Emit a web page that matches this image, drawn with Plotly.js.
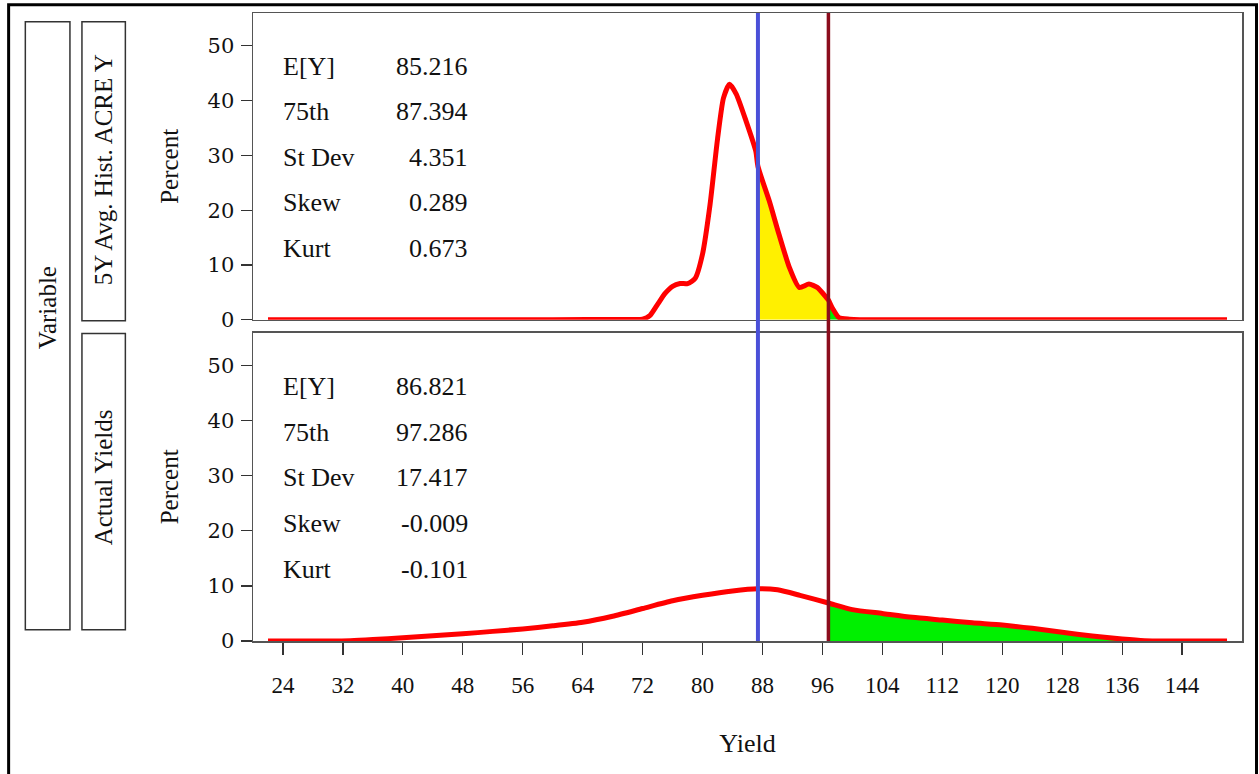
<!DOCTYPE html>
<html>
<head>
<meta charset="utf-8">
<script src="https://cdn.plot.ly/plotly-3.0.1.min.js"></script>
<style>html,body{margin:0;padding:0;background:#fff;}#chart{width:1259px;height:774px;}</style>
</head>
<body>
<div id="chart"></div>
<script>
// ---- data ----
const panelNames = ["5Y Avg. Hist. ACRE Y", "Actual Yields"];
const groupLabel = "Variable";

const histX = [22, 60, 70, 72, 73, 74, 75, 76, 77, 78, 79, 80, 81, 82, 82.8, 83.6, 84.5, 85.8, 87.1, 87.394, 88.9, 90.2, 91.6, 92.9, 94.2, 95.3, 96.5, 96.8, 97.3, 98.2, 99.6, 101, 150];
const histY = [0, 0, 0.05, 0.1, 0.8, 2.8, 4.8, 6.1, 6.6, 6.6, 7.5, 12.0, 21.0, 33.0, 40.5, 43.0, 41.2, 36.3, 30.8, 28.0, 21.7, 15.6, 9.5, 5.9, 6.5, 5.9, 4.1, 3.6, 2.2, 0.4, 0.1, 0, 0];

const actX = [22, 30, 33, 36, 40, 44, 48, 52, 56, 60, 64, 68, 72, 76, 80, 84, 87.394, 90, 93, 96.8, 100, 104, 108, 112, 116, 120, 124, 128, 132, 136, 139, 142, 150];
const actY = [0, 0, 0.05, 0.25, 0.6, 0.95, 1.3, 1.75, 2.2, 2.75, 3.4, 4.5, 5.9, 7.3, 8.3, 9.1, 9.5, 9.3, 8.3, 6.9, 5.7, 5.0, 4.3, 3.8, 3.3, 2.9, 2.3, 1.6, 0.9, 0.35, 0.05, 0, 0];

const statNames = ["E[Y]", "75th", "St Dev", "Skew", "Kurt"];
const histStats = ["85.216", "87.394", "4.351", "0.289", "0.673"];
const actStats  = ["86.821", "97.286", "17.417", "-0.009", "-0.101"];

const line75 = 87.394;      // blue reference line
const lineActual = 96.8;    // dark red reference line (as drawn)

const xTicks = [24, 32, 40, 48, 56, 64, 72, 80, 88, 96, 104, 112, 120, 128, 136, 144];
const yTicks = [0, 10, 20, 30, 40, 50];

// ---- helpers ----
function segment(xs, ys, lo, hi) {
  const ox = [], oy = [];
  xs.forEach((v, i) => { if (v >= lo && v <= hi) { ox.push(v); oy.push(ys[i]); } });
  return {x: ox, y: oy};
}

const serif = "Liberation Serif, Times New Roman, serif";
const RED = "#ff0000", YEL = "#fff000", GRN = "#00f000";

const hy = segment(histX, histY, line75, lineActual);
const hg = segment(histX, histY, lineActual, 200);
const ag = segment(actX, actY, lineActual, 200);

const traces = [
  {x: hy.x, y: hy.y, xaxis: "x2", yaxis: "y2", type: "scatter", mode: "lines", fill: "tozeroy", fillcolor: YEL, line: {width: 0, color: YEL, shape: "spline", smoothing: 0.6}, hoverinfo: "skip", showlegend: false},
  {x: hg.x, y: hg.y, xaxis: "x2", yaxis: "y2", type: "scatter", mode: "lines", fill: "tozeroy", fillcolor: GRN, line: {width: 0, color: GRN, shape: "spline", smoothing: 0.6}, hoverinfo: "skip", showlegend: false},
  {x: ag.x, y: ag.y, xaxis: "x", yaxis: "y", type: "scatter", mode: "lines", fill: "tozeroy", fillcolor: GRN, line: {width: 0, color: GRN, shape: "spline", smoothing: 0.6}, hoverinfo: "skip", showlegend: false},
  {x: histX, y: histY, xaxis: "x2", yaxis: "y2", type: "scatter", mode: "lines", name: panelNames[0], line: {color: RED, width: 5, shape: "spline", smoothing: 0.6}, showlegend: false},
  {x: actX, y: actY, xaxis: "x", yaxis: "y", type: "scatter", mode: "lines", name: panelNames[1], line: {color: RED, width: 5, shape: "spline", smoothing: 0.6}, showlegend: false}
];

// geometry in pixels -> paper
const L = 253.3, R = 1242, T = 13.3, B = 641.3;
const W = R - L, H = B - T;
const px = v => (v - L) / W;
const py = v => (B - v) / H;

const frame = "#555";
const yAxisCommon = {
  range: [0, 56], tickvals: yTicks, ticks: "outside", ticklen: 11, tickwidth: 1.2, tickcolor: "#333",
  showline: true, mirror: true, linecolor: frame, linewidth: 1.5, showgrid: false, zeroline: false,
  ticklabelstandoff: 2,
  tickfont: {family: "DejaVu Serif, serif", size: 21, color: "#111"}
};

const layout = {
  width: 1259, height: 774, autosize: false,
  paper_bgcolor: "#fff", plot_bgcolor: "#fff",
  margin: {l: L, r: 1259 - R, t: T, b: 774 - B, pad: 0},
  showlegend: false,
  xaxis: {domain: [0, 1], anchor: "y", range: [20, 152], tickvals: xTicks, ticks: "outside", ticklen: 12, tickwidth: 1.2, tickcolor: "#333",
          showline: true, mirror: true, linecolor: frame, linewidth: 1.5, showgrid: false, zeroline: false,
          ticklabelstandoff: 11,
          tickfont: {family: serif, size: 23, color: "#111"},
          title: {text: "Yield", font: {family: serif, size: 26, color: "#111"}, standoff: 36}},
  xaxis2: {domain: [0, 1], anchor: "y2", matches: "x", range: [20, 152], showticklabels: false, ticks: "",
           showline: true, mirror: true, linecolor: frame, linewidth: 1.5, showgrid: false, zeroline: false},
  yaxis: Object.assign({}, yAxisCommon, {domain: [0, py(333)], anchor: "x",
          title: {text: "Percent", font: {family: serif, size: 25, color: "#111"}, standoff: 22}}),
  yaxis2: Object.assign({}, yAxisCommon, {domain: [py(320), 1], anchor: "x2",
          title: {text: "Percent", font: {family: serif, size: 25, color: "#111"}, standoff: 22}}),
  shapes: [
    {type: "line", xref: "x", yref: "paper", x0: line75, x1: line75, y0: 0, y1: 1, line: {color: "#4a50d8", width: 4}, layer: "above"},
    {type: "line", xref: "x", yref: "paper", x0: lineActual, x1: lineActual, y0: 0, y1: 1, line: {color: "#8b0c1c", width: 3.5}, layer: "above"},
    {type: "rect", xref: "paper", yref: "paper", x0: px(9), x1: px(1256.5), y0: py(800), y1: py(5), line: {color: "#000", width: 3}},
    {type: "rect", xref: "paper", yref: "paper", x0: px(25.7), x1: px(70.3), y0: py(630), y1: py(22), line: {color: "#333", width: 1.5}},
    {type: "rect", xref: "paper", yref: "paper", x0: px(82.3), x1: px(125.7), y0: py(321), y1: py(22), line: {color: "#333", width: 1.5}},
    {type: "rect", xref: "paper", yref: "paper", x0: px(82.3), x1: px(125.7), y0: py(630), y1: py(333.7), line: {color: "#333", width: 1.5}}
  ],
  annotations: []
};

const tf = {family: serif, size: 25, color: "#111"};
const sf = {family: serif, size: 26, color: "#111"};
layout.annotations.push({xref: "paper", yref: "paper", x: px(48), y: py(308), text: groupLabel, textangle: -90, showarrow: false, font: tf, xanchor: "center", yanchor: "middle"});
layout.annotations.push({xref: "paper", yref: "paper", x: px(104), y: py(170), text: panelNames[0], textangle: -90, showarrow: false, font: tf, xanchor: "center", yanchor: "middle"});
layout.annotations.push({xref: "paper", yref: "paper", x: px(104), y: py(478), text: panelNames[1], textangle: -90, showarrow: false, font: tf, xanchor: "center", yanchor: "middle"});

const topRows = [67, 112, 158, 203, 249];
const botRows = [387, 433, 478, 524, 570];
statNames.forEach((s, i) => {
  layout.annotations.push({xref: "paper", yref: "paper", x: px(281), y: py(topRows[i]), text: s, showarrow: false, font: sf, xanchor: "left", yanchor: "middle"});
  layout.annotations.push({xref: "paper", yref: "paper", x: px(470), y: py(topRows[i]), text: histStats[i], showarrow: false, font: sf, xanchor: "right", yanchor: "middle"});
  layout.annotations.push({xref: "paper", yref: "paper", x: px(281), y: py(botRows[i]), text: s, showarrow: false, font: sf, xanchor: "left", yanchor: "middle"});
  layout.annotations.push({xref: "paper", yref: "paper", x: px(470), y: py(botRows[i]), text: actStats[i], showarrow: false, font: sf, xanchor: "right", yanchor: "middle"});
});

Plotly.newPlot("chart", traces, layout, {displayModeBar: false, staticPlot: true});
</script>
</body>
</html>
